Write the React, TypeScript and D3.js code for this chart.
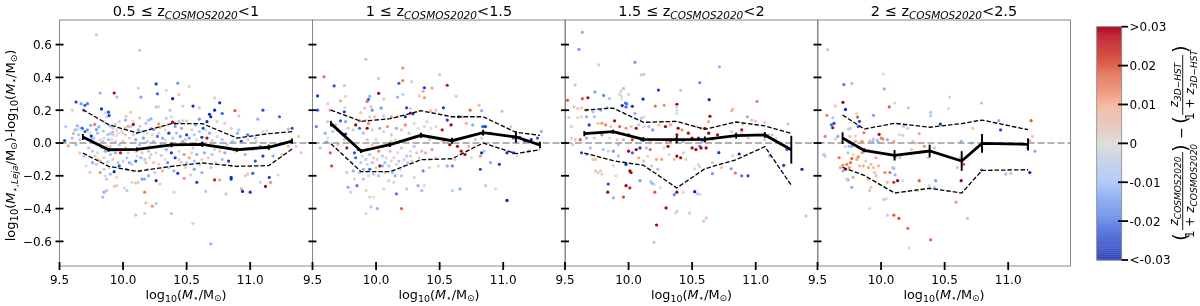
import React from 'react';
import * as d3 from 'd3';

type Pt = [number, number, number];

// log mass, delta log mass, delta z
const points05: Pt[] = [
  [9.79,.66,.008],[10.13,.565,.008],[10.26,.36,-.025],[10.43,.365,-.014],[10.34,.32,.005],[10.52,.345,.002],[10.12,.335,.005],[10.27,.3,-.02],
  [9.82,.305,-.012],[9.93,.305,.03],[9.95,.28,-.01],[10.14,.28,-.013],[10.39,.27,-.03],[10.44,.295,.006],[9.63,.25,-.026],[9.67,.24,-.014],
  [9.72,.24,-.017],[9.7,.23,-.02],[9.6,.2,.005],[9.69,.2,-.016],[9.83,.208,-.028],[9.885,.188,-.024],[9.89,.167,-.026],[9.86,.184,0],
  [10.28,.22,-.002],[10.26,.22,-.008],[10.37,.2,-.006],[10.47,.225,.005],[10.55,.225,-.028],[10.6,.215,-.006],[10.72,.275,.004],[10.76,.245,-.028],
  [10.72,.2,-.028],[10.78,.18,-.02],[10.68,.175,-.028],[10.69,.16,-.028],[10.88,.197,.02],[10.91,.165,.006],[11.1,.2,-.022],[11.23,.16,-.02],
  [11.06,.145,-.012],[10.66,.13,-.028],[10.57,.11,-.012],[10.6,.145,-.014],[10.5,.135,.006],[10.47,.135,.006],[10.39,.127,.03],[10.41,.119,.018],
  [10.22,.147,-.012],[10.2,.139,-.01],[10.06,.188,.006],[10.024,.163,.006],[10.13,.153,.006],[10.08,.113,.03],[10.04,.102,.012],[10.016,.092,.006],
  [10.134,.102,.006],[10.28,.117,.014],[10.24,.082,-.014],[10.29,.096,.012],[9.55,.1,-.008],[9.635,.082,-.008],[9.667,.092,-.006],[9.61,.058,.012],
  [9.777,.113,.016],[9.745,.107,-.012],[9.79,.082,-.014],[9.81,.098,-.012],[9.845,.072,-.006],[9.75,.042,-.028],[9.9,.102,-.01],[9.94,.113,-.006],
  [9.963,.062,0],[9.99,.072,0],[10,.058,.002],[9.95,.045,0],[9.898,.058,-.008],[9.919,.066,-.01],[9.885,.021,-.01],[9.54,.015,-.026],[9.57,-.018,.012],
  [9.6,.03,-.01],[9.62,.08,-.008],[9.64,.105,-.012],[9.65,.05,-.01],[9.66,.02,-.006],[9.63,-.01,-.01],[9.68,.09,-.02],[9.7,.07,-.02],[9.72,.08,-.015],
  [9.74,.06,0],[9.75,.02,-.012],[9.73,-.03,-.006],[9.76,-.05,-.006],[9.78,-.08,.006],[9.8,-.1,.01],[9.82,-.11,.012],[9.71,-.14,0],[9.74,-.18,.004],
  [9.82,-.18,.014],[9.85,-.16,-.006],[9.86,-.2,0],[9.87,-.22,-.006],[9.85,-.3,-.012],[9.84,-.33,-.01],[9.87,-.29,-.008],[9.93,-.265,.007],[9.95,-.26,.007],
  [10.01,-.275,.002],[10.03,-.29,-.006],[10.1,-.245,.006],[10.1,-.44,.008],[10.17,-.43,.008],[10.17,-.3,.016],[10.18,-.365,.01],[10.23,-.385,.014],
  [10.26,-.37,-.008],[10.38,-.43,-.01],[10.15,-.22,-.014],[10.17,-.22,-.012],[10.12,-.24,.004],[10.26,-.23,-.027],[10.29,-.25,.006],[10.4,-.3,.003],
  [10.4,-.17,-.012],[10.43,-.185,-.026],[10.48,-.215,.014],[10.53,-.195,.006],[10.58,-.24,-.024],[10.65,-.295,-.007],[10.55,-.49,.004],[10.69,-.615,-.012],
  [10.72,-.225,.026],[10.76,-.225,.012],[10.81,-.31,-.006],[10.85,-.22,-.028],[10.85,-.21,-.028],[10.93,-.28,.012],[10.94,-.295,-.028],[11,-.3,-.026],
  [11.02,-.185,-.02],[10.98,-.19,.008],[10.96,-.2,.006],[11.08,-.24,-.004],[11.12,-.265,.03],[11.15,-.21,-.024],[11.16,-.24,.014],[11.22,-.195,.001],
  [10.62,-.18,-.012],[10.69,-.15,-.006],[10.73,-.12,.006],[10.78,-.1,-.01],[10.83,-.11,-.026],[10.85,-.14,.008],[10.8,-.06,-.012],[10.76,-.05,.006],
  [10.7,-.07,-.008],[10.62,-.1,.004],[10.56,-.11,-.01],[10.52,-.09,.012],[10.46,-.12,.006],[10.41,-.09,-.026],[10.38,-.06,-.026],[10.33,-.1,0],
  [10.3,-.075,-.006],[10.24,-.12,.006],[10.21,-.09,.004],[10.18,-.12,.008],[10.14,-.09,-.012],[10.1,-.11,-.02],[10.07,-.13,.004],[10.03,-.09,-.008],
  [9.98,-.06,.028],[9.97,-.14,-.022],[9.93,-.175,-.028],[9.96,-.12,-.008],[9.92,-.1,.004],[9.88,-.115,-.006],[9.9,-.07,-.01],[9.86,-.05,-.012],
  [9.83,-.03,-.008],[9.8,-.06,.002],[9.82,.02,.004],[9.85,.03,.002],[9.88,.05,-.01],[9.91,.02,.002],[9.94,.01,.004],[9.97,-.01,-.006],[10,.01,.004],
  [10.02,-.03,.008],[10.05,.03,.002],[10.08,.05,.006],[10.1,.02,-.012],[10.13,-.01,-.01],[10.16,.03,-.014],[10.19,.06,.001],[10.21,-.02,.004],
  [10.24,.01,-.01],[10.27,.04,-.018],[10.3,-.01,-.008],[10.33,.02,.001],[10.36,-.02,.005],[10.36,.06,-.026],[10.39,.03,-.008],[10.42,-.01,.008],
  [10.45,.04,-.014],[10.47,.01,-.012],[10.5,.05,-.026],[10.52,.03,-.014],[10.55,-.03,.006],[10.58,.02,.002],[10.62,.035,-.026],[10.66,.03,.028],
  [10.68,.06,-.012],[10.7,.015,.006],[10.74,.04,.004],[10.78,.02,-.007],[10.82,-.01,.006],[10.86,.01,-.01],[10.9,.06,-.012],[10.93,.01,-.026],
  [10.98,.05,-.018],[11.02,-.04,-.006],[11.05,.01,.002],[11.1,-.08,-.026],[11.04,-.11,-.022],[11.14,-.03,.004],[11.18,-.08,-.012],[11.25,-.07,.006],
  [11.3,-.02,.01],[11.33,.09,-.022],[11.3,.085,.012],[11.38,.04,.006],[11.4,-.06,.006],[11.36,-.02,.002],[11.13,.075,.002],[11.1,.07,.001],[11.04,.03,-.01],
  [10.98,.02,.003],[10.91,.08,-.006],[10.85,.09,.004],[10.8,.12,.006],[10.74,.13,.001],[10.63,.09,-.024],[10.6,.07,-.008],[10.54,.08,.004],[10.46,.09,-.012],
  [10.42,.06,-.01],[10.33,.08,.002],[10.28,.06,0],[10.22,.09,-.01],[10.18,.12,-.008],[10.12,.08,-.012],[10.08,.13,.003],[10.02,.14,-.012],[9.97,.13,.004],
  [10.34,.15,-.006],[10.38,.16,.002],[10.44,.13,-.01],[9.92,.09,.008],[9.87,.16,-.006],[9.85,.13,.002],[10.03,-.16,-.012],[10.08,-.17,-.006],[10.13,-.17,.004],
  [10.19,-.16,.008],[10.25,-.18,.006],[10.31,-.17,.01],[10.36,-.15,-.008],[10.49,-.15,.004],[10.56,-.16,-.014],[10.6,-.13,.002],[9.9,-.19,-.01],[9.95,-.21,.002],
  [10.07,-.24,.001],[10.2,-.2,-.012],[9.79,-.13,-.004],[9.76,-.12,-.012],[9.66,-.06,.006],[9.69,-.08,-.008],[9.9,-.02,.006],[10.04,-.06,.006],[10.1,-.05,-.004],
  [10.15,-.06,.006],[10.2,-.05,-.008],[10.26,-.06,.004],[10.34,-.04,-.012],[10.44,-.05,.002],[10.48,-.07,.014],[10.58,-.07,-.012],[10.67,-.09,.006],
  [9.77,.03,-.008],[9.8,.06,-.01],[9.84,.01,-.006],[9.87,-.02,.004],[9.92,.05,-.004],[9.95,.08,.002],[10.02,.05,.004],[10.06,.1,-.006],[10.11,.06,.002],
  [10.15,.07,-.008],[10.19,.01,-.006],[10.23,.05,.001],[10.31,.03,-.012],[10.35,.11,.004],[10.41,.1,-.014],[10.49,.02,.006],[10.56,.05,-.008],[10.65,.08,.002],
  [9.85,-.09,.004],[9.89,-.15,.002],[9.94,-.06,-.012],[10,-.11,.006],[10.05,-.12,-.012],[10.11,-.08,.002],[10.17,-.1,-.006],[10.22,-.07,.006],[10.28,-.13,.004],
  [10.35,-.12,-.014],[10.44,-.1,.004],[10.5,-.12,-.008],[10.54,-.06,.002],[10.64,-.06,-.012],[10.72,-.04,.002],[10.88,-.05,.006],[10.96,-.07,-.012],[11.08,-.02,-.014],
];

const points1: Pt[] = [
  [9.92,.51,-.008],[10.02,.394,-.006],[10.21,.457,.014],[10.5,.417,.008],[9.59,.404,.018],[10.21,.38,.016],[10.18,.364,-.02],[10.28,.374,-.002],
  [10.56,.352,.028],[9.67,.348,-.022],[9.75,.35,-.006],[10.38,.337,-.026],[10.44,.335,.012],[10.37,.315,.012],[10.02,.303,.03],[10.63,.285,.006],
  [9.54,.287,-.026],[10.34,.287,.006],[10.38,.276,.014],[10.17,.28,-.012],[10.21,.297,-.006],[9.76,.285,.004],[9.95,.285,-.012],[9.94,.266,-.02],
  [9.93,.254,.018],[10.06,.268,.006],[9.72,.256,.012],[9.62,.24,.004],[9.54,.2,-.02],[9.64,.2,.014],[9.755,.217,0],[9.75,.19,-.025],[9.88,.185,.006],
  [9.91,.213,.008],[9.96,.22,.008],[9.97,.2,-.015],[10.04,.213,-.015],[10.24,.215,-.025],[10.27,.21,.006],[10.53,.215,-.026],[10.81,.23,.01],
  [10.74,.2,.018],[10.83,.197,-.012],[10.99,.193,-.008],[10.43,.197,.008],[10.47,.2,.006],[10.27,.183,.028],[10.29,.178,-.026],[10.23,.16,-.028],
  [10.17,.16,.006],[10.12,.16,.014],[10.06,.165,-.006],[9.99,.16,.01],[9.95,.16,-.004],[9.92,.14,.002],[9.94,.118,.014],[9.87,.135,.016],[9.84,.11,.03],
  [9.76,.13,-.012],[9.72,.135,-.02],[9.68,.11,-.01],[9.62,.13,-.006],[9.53,.1,-.016],[9.6,.06,-.012],[9.66,.07,-.008],[9.7,.08,-.012],[9.73,.06,-.022],
  [9.76,.055,-.028],[9.78,.09,.006],[9.82,.08,-.006],[9.87,.09,-.02],[9.93,.09,.03],[9.9,.06,-.008],[9.97,.08,.004],[10.03,.09,-.012],[10.06,.07,.006],
  [10.09,.1,.014],[10.12,.05,-.006],[10.16,.09,-.012],[10.2,.08,.008],[10.23,.11,.016],[10.26,.06,-.006],[10.3,.12,.002],[10.33,.09,0],[10.38,.1,.004],
  [10.4,.13,.003],[10.43,.09,.001],[10.47,.1,.002],[10.52,.08,.028],[10.56,.14,-.026],[10.59,.11,.03],[10.65,.16,-.026],[10.68,.16,.012],[10.71,.12,.012],
  [10.76,.11,-.012],[10.84,.1,-.02],[10.86,.1,-.026],[10.9,.06,-.012],[11.06,.1,-.004],[11.13,.035,-.024],[11.08,.03,-.02],[11.17,.01,-.022],[11.3,.07,-.012],
  [11.27,.03,-.022],[11.22,.02,-.028],[11.26,-.01,-.002],[11.2,-.05,-.012],[11.08,-.06,-.026],[11.03,-.06,-.028],[10.83,-.06,-.028],[10.7,-.07,.03],[10.67,-.05,.028],
  [10.64,-.02,.028],[10.58,-.01,.03],[10.53,.01,.012],[10.73,-.02,.01],[10.78,.02,.006],[10.83,.03,.004],[9.56,-.03,-.006],[9.61,.005,-.014],[9.64,-.06,.02],
  [9.65,-.14,.022],[9.77,-.18,.01],[9.81,-.12,-.004],[9.77,-.03,.028],[9.75,.02,.006],[9.7,-.01,.006],[9.62,.03,.002],[9.83,-.06,-.022],[9.84,-.09,-.02],
  [9.86,-.04,-.026],[9.89,-.08,0],[9.92,-.1,-.006],[9.95,-.07,-.01],[9.98,-.09,.004],[10.02,-.05,.016],[10.05,-.08,-.008],[10.03,-.14,.03],[10.08,-.09,.004],
  [10.11,-.05,.01],[10.14,-.09,-.004],[10.17,-.06,.002],[10.2,-.03,-.006],[10.24,-.08,-.008],[10.27,-.05,0],[10.3,-.02,-.01],[10.34,-.09,.004],[10.36,-.05,-.006],
  [10.39,-.06,.012],[10.44,-.04,.014],[10.47,-.09,.004],[10.49,-.14,.002],[10.56,-.14,-.012],[10.6,-.14,-.016],[10.62,-.1,.006],[10.82,-.16,-.024],[10.85,-.05,-.01],
  [10.9,-.12,-.012],[10.97,-.13,-.026],[11.11,-.08,0],[9.82,-.17,-.012],[9.83,-.22,-.002],[9.87,-.18,-.008],[9.9,-.16,-.012],[9.95,-.16,-.02],[10,-.15,.004],
  [9.85,-.26,-.018],[9.78,-.27,-.012],[9.8,-.3,-.004],[9.92,-.29,.004],[9.95,-.33,.004],[9.98,-.33,.002],[9.92,-.43,-.002],[10.01,-.4,-.012],[9.96,-.39,-.008],
  [10.06,-.28,.002],[10.1,-.23,.004],[10.14,-.24,.004],[10.16,-.31,-.018],[10.2,-.4,.02],[10.24,-.28,-.006],[10.33,-.26,-.012],[10.36,-.29,-.01],[10.38,-.26,.002],
  [10.15,-.2,-.012],[10.2,-.2,-.008],[10.3,-.21,.004],[10.37,-.17,-.016],[10.42,-.15,.004],[10.6,-.29,-.006],[10.66,-.28,-.012],[10.86,-.26,.008],[10.94,-.28,.001],
  [11.03,-.35,-.03],[10.82,-.08,.014],[10.75,-.09,.002],[10.07,-.18,.006],[10.02,-.2,-.01],[10.1,-.14,-.008],[10.16,-.13,.002],[10.22,-.14,-.006],[10.28,-.11,.002],
  [10.05,-.02,.012],[9.97,-.01,.006],[9.93,.02,.008],[10.0,.02,.002],[10.15,.02,.001],[10.25,.02,-.008],[10.36,.04,.001],[10.42,.02,-.004],
  [9.88,-.12,-.006],[9.93,-.13,.002],[9.97,-.12,-.008],[10.01,-.1,.002],[10.07,-.12,-.01],[10.12,-.11,.002],[10.18,-.11,-.008],[10.22,-.1,-.002],[10.27,-.08,.004],
  [9.9,-.22,-.008],[9.94,-.2,.002],[9.98,-.19,-.006],[10.05,-.14,-.012],[10.13,-.18,-.01],[10.19,-.16,.002],[10.25,-.12,-.006],[10.32,-.06,.006],[10.12,.01,.004],
];

const points15: Pt[] = [
  [9.636,.675,-.012],[9.61,.571,-.014],[9.765,.476,-.004],[10.05,.492,-.014],[10.715,.465,-.012],[10.1,.415,.008],[10.12,.419,-.006],[10.56,.368,-.015],
  [10.235,.323,-.025],[9.58,.354,-.005],[9.96,.333,-.008],[9.94,.317,.006],[10.41,.321,-.006],[9.736,.311,-.014],[9.804,.29,-.016],[9.68,.276,.03],
  [9.637,.27,.02],[9.52,.26,.02],[9.85,.27,-.008],[9.93,.295,.004],[9.946,.285,0],[10,.295,.006],[9.945,.268,0],[10.114,.268,-.03],[10.634,.264,-.028],
  [11.01,.254,.016],[9.95,.228,-.028],[9.975,.244,-.018],[9.985,.24,-.018],[9.98,.22,-.02],[10.03,.224,-.028],[10.21,.225,.018],[10.28,.23,.014],
  [10.38,.236,.03],[10.38,.22,.002],[10.38,.2,0],[10.38,.18,-.002],[10.81,.197,.01],[10.82,.207,.01],[10.64,.163,.03],[10.935,.16,-.012],[10.97,.14,.01],
  [11,.134,.008],[11.255,.116,-.008],[11.07,.126,.004],[10.89,.08,.028],[10.9,.116,.008],[9.53,.155,-.004],[9.57,.22,.008],[9.6,.21,.006],[9.63,.215,.006],
  [9.67,.2,.014],[9.72,.19,-.01],[9.78,.2,-.012],[9.83,.215,-.012],[10.05,.18,-.012],[10.12,.16,.002],[10.1,.15,-.006],[9.55,.1,-.004],[9.6,.155,.002],
  [9.63,.16,.002],[9.67,.16,-.012],[9.69,.11,-.026],[9.73,.16,-.01],[9.76,.12,.008],[9.79,.12,.014],[9.82,.11,.016],[9.86,.1,.008],[9.89,.135,.03],
  [9.93,.1,.02],[9.92,.06,.012],[9.98,.09,.014],[10.02,.1,.008],[10.06,.09,.03],[10,.05,.03],[10.03,.02,.022],[10.08,.11,-.006],[10.12,.1,.002],[10.16,.1,-.01],
  [10.19,.08,-.014],[10.24,.11,.004],[10.29,.1,.03],[10.33,.11,.012],[10.39,.09,.03],[10.38,.05,.03],[10.42,.08,.014],[10.47,.06,.028],[10.53,.1,.008],
  [10.57,.09,.012],[10.6,.09,.028],[10.63,.13,.012],[10.63,.06,.03],[10.7,.05,.03],[10.81,.07,.006],[10.89,.06,.002],[10.94,.03,.004],[11.1,.05,.012],
  [11.07,.02,.004],[11.16,.03,.002],[11.13,.05,-.006],[9.55,.03,.004],[9.58,.02,.008],[9.62,.02,.02],[9.67,.03,-.012],[9.73,.03,.006],[9.79,.05,-.014],
  [9.85,.03,0],[9.91,.02,.004],[9.96,.02,.012],[10.1,.02,-.024],[10.17,.01,.006],[10.23,.02,.012],[10.3,.015,.016],[10.33,.015,.03],[10.37,.02,.03],
  [10.43,.01,-.012],[10.5,.03,.03],[10.55,.03,.03],[10.58,.01,-.012],[10.66,.02,.006],[9.56,-.01,.004],[9.63,-.06,-.024],[9.67,-.07,-.012],[9.7,-.03,-.01],
  [9.74,-.1,.008],[9.72,-.1,.006],[9.8,-.04,-.01],[9.84,-.05,-.002],[9.88,-.05,-.014],[9.92,-.01,-.008],[10,-.05,.03],[10.03,-.06,-.02],[10.06,-.04,.03],
  [10.09,-.03,-.026],[10.14,-.03,-.01],[10.17,-.04,.018],[10.22,-.1,.012],[10.26,-.1,.012],[10.28,-.03,-.002],[10.32,-.07,.002],[10.38,-.08,.03],[10.41,-.09,.03],
  [10.43,-.06,-.004],[10.5,-.03,.03],[10.53,-.04,.03],[10.56,-.02,-.016],[10.57,-.03,.03],[10.61,-.03,.03],[10.45,-.1,.003],[10.36,-.1,.008],[10.31,-.02,.03],
  [9.74,-.17,.006],[9.76,-.18,.005],[9.78,-.17,.004],[9.79,-.19,.002],[9.88,-.14,.004],[9.98,-.13,-.028],[10.01,-.17,.03],[10.02,-.18,.03],[9.92,-.08,-.01],
  [10.09,-.23,-.014],[9.9,-.2,.002],[9.84,-.25,-.024],[9.836,-.3,.03],[9.88,-.335,-.012],[9.98,-.26,.03],[10.01,-.274,.026],[9.96,-.33,.022],[10.206,-.3,.02],
  [10.175,-.234,-.006],[10.185,-.246,-.012],[10.2,-.252,-.004],[10.25,-.272,0],[10.38,-.3,.03],[10.36,-.315,-.016],[10.43,-.3,.002],[10.52,-.297,-.03],
  [10.54,-.31,-.008],[10.56,-.313,.002],[10.295,-.396,.03],[10.38,-.417,-.004],[10.37,-.427,.002],[10.48,-.427,.006],[10.61,-.457,.008],[10.59,-.476,.008],
  [10.22,-.5,.03],[10.2,-.606,.008],[11.395,-.445,.008],[11.364,-.16,-.03],[11.22,-.136,-.026],[10.94,-.2,-.024],[10.89,-.2,-.018],[10.84,-.183,.018],
  [10.807,-.157,-.014],[10.66,-.187,-.014],[10.56,-.144,-.004],[10.55,-.132,.002],[10.52,-.157,.002],[10.71,-.059,-.026],[10.87,-.067,-.028],[10.82,-.077,0],
  [11.11,-.079,-.012],[11.245,-.04,-.02],[10.73,-.15,.008],[10.66,-.12,-.004],[10.23,-.16,-.01],[10.18,-.14,-.006],[10.12,-.11,-.006],[10.08,-.09,.012],[10.15,-.08,.003],
];

const points2: Pt[] = [
  [9.58,.569,-.008],[9.707,.356,-.018],[9.77,.364,-.01],[10.017,.42,-.002],[10.025,.33,-.012],[10.54,.28,.004],[9.7,.248,.03],[10.106,.244,.002],[10.064,.22,.02],
  [9.64,.226,.008],[9.72,.205,-.03],[10.214,.215,-.008],[10.53,.21,.002],[10.79,.244,-.01],[10.39,.187,-.008],[10.39,.165,-.006],[9.807,.18,-.002],[9.815,.158,.02],
  [9.574,.169,.016],[9.62,.154,-.008],[9.94,.169,-.014],[9.83,.132,-.024],[9.63,.12,-.024],[9.61,.11,-.02],[9.62,.093,.03],[9.82,.1,-.02],[9.757,.09,-.008],
  [9.744,.085,-.006],[10.466,.116,-.028],[10.925,.136,-.012],[10.94,.08,-.024],[11.18,.136,.02],[10.72,.09,.006],[10.177,.1,-.008],[10.21,.09,-.006],[10.143,.05,.004],
  [10.17,.047,.004],[10.3,.057,.012],[9.985,.053,.03],[10,.03,.016],[10.014,.024,.016],[9.94,.024,-.008],[9.933,.01,-.01],[9.98,.004,-.006],[9.97,.016,-.01],
  [9.865,.063,.016],[9.797,.043,.002],[9.755,.04,.004],[9.66,.04,-.012],[9.56,.04,.016],[9.64,.024,.004],[9.75,-.02,-.01],[9.77,-.02,-.012],[9.72,-.02,-.002],
  [9.8,.01,.012],[9.85,.01,.014],[9.91,.015,.006],[10.05,.02,-.012],[10.1,.01,.012],[10.25,.01,-.004],[10.27,0,.006],[10.63,.01,-.012],[10.71,0,-.012],[11.15,-.03,-.01],
  [11.17,.015,.012],[11.19,.04,.006],[11.21,-.05,-.012],[9.55,-.07,-.008],[9.56,-.08,-.006],[9.67,-.09,.018],[9.74,-.06,-.008],[9.78,-.07,.002],[9.82,-.085,.016],
  [9.81,-.1,.012],[9.77,-.095,.02],[9.76,-.12,.018],[9.73,-.13,.016],[9.7,-.135,.014],[9.68,-.15,.012],[9.72,-.16,.03],[9.75,-.15,.014],[9.7,-.17,-.012],
  [9.74,-.225,-.012],[9.73,-.22,-.006],[9.78,-.21,.012],[9.77,-.27,-.012],[9.83,-.14,.01],[9.86,-.14,.012],[9.88,-.11,-.004],[9.92,-.13,.01],[9.9,-.15,.012],
  [9.94,-.15,.008],[9.95,-.18,.01],[9.96,-.2,.01],[9.9,-.22,.012],[9.92,-.27,.008],[9.91,-.29,.006],[10.03,-.18,.016],[10.07,-.18,.018],[10.1,-.155,-.012],
  [10.11,-.195,-.012],[10.13,-.23,.03],[10.17,-.23,0],[10.05,-.24,.01],[10.1,-.24,.024],[10.02,-.345,-.006],[10.04,-.34,.004],[9.91,-.4,.001],[10.05,-.44,-.004],
  [10.1,-.44,.02],[10.14,-.46,.022],[10.21,-.52,.018],[10.22,-.64,.002],[10.39,-.59,.02],[10.3,-.23,.02],[10.38,-.26,-.002],[10.43,-.23,-.014],[10.28,-.29,.004],
  [10.42,-.27,-.006],[10.63,-.23,.03],[10.59,-.36,.014],[10.68,-.46,-.006],[10.65,-.13,.02],[10.6,-.15,.008],[10.79,-.165,-.018],[10.98,-.19,-.008],[11.02,-.185,-.008],
  [11.17,-.18,-.03],[10.37,-.09,.002],[10.42,-.03,.006],[10.11,-.09,.014],[10.15,-.09,-.006],[10.09,-.15,-.008],[9.98,-.14,.01],[9.96,-.09,.012],[9.87,-.04,.012],
  [9.82,-.03,-.002],[9.85,-.06,.014],[10.62,-.09,.004],[10.24,-.04,.008],[10.3,-.06,.006],[10.34,-.02,.014],
];

const medians = [
  { x: [9.684,9.886,10.109,10.382,10.623,10.896,11.146,11.329], y: [.037,-.041,-.039,-.012,-.008,-.041,-.026,.012], err: [.018,.012,.012,.014,.016,.012,.016,.016],
    up: [.203,.112,.061,.118,.118,.03,.057,.069], lo: [-.061,-.142,-.173,-.142,-.122,-.142,-.138,-.037] },
  { x: [9.645,9.882,10.11,10.353,10.597,10.842,11.1,11.289], y: [.118,-.049,-.01,.047,.014,.063,.037,-.012], err: [.017,.012,.014,.016,.018,.018,.035,.02],
    up: [.201,.132,.148,.197,.16,.16,.065,.047], lo: [-.004,-.175,-.175,-.102,-.096,0,-.065,-.041] },
  { x: [9.652,9.878,10.117,10.379,10.6,10.846,11.072,11.28], y: [.057,.069,.022,.02,.022,.045,.049,-.041], err: [.016,.012,.014,.022,.018,.018,.018,.085],
    up: [.201,.213,.126,.132,.083,.128,.104,.059], lo: [-.061,-.108,-.136,-.274,-.157,-.102,-.022,-.258] },
  { x: [9.697,9.867,10.106,10.382,10.634,10.794,11.156], y: [.03,-.045,-.075,-.049,-.11,-.002,-.008], err: [.035,.012,.032,.039,.06,.057,.037],
    up: [.171,.085,.12,.096,.118,.14,.081], lo: [-.148,-.197,-.305,-.276,-.305,-.167,-.163] },
];

const zLabels = ['0.5', '1', '1.5', '2'];
const zLabelsHigh = ['1', '1.5', '2', '2.5'];
const panelPoints = [points05, points1, points15, points2];
const panelLefts = [59.5, 312.5, 565, 817.5];
const xTicks = [9.5, 10, 10.5, 11];
const yTicks = [-0.6, -0.4, -0.2, 0, 0.2, 0.4, 0.6];
const cbarTicks = [-0.03, -0.02, -0.01, 0, 0.01, 0.02, 0.03];
const cbarLabels = ['<-0.03', '-0.02', '-0.01', '0', '0.01', '0.02', '>0.03'];

const dotColor = d3.scaleLinear<string>().domain(cbarTicks)
  .range(['#0a1fc0', '#2f62f0', '#a4c2ff', '#dcdcdc', '#f8b89e', '#ec5a30', '#a80010']).clamp(true);
const barColor = d3.scaleLinear<string>().domain(cbarTicks)
  .range(['#3345bb', '#6a8de8', '#b0c9f8', '#dddcdc', '#f5b8a0', '#e0664e', '#b70d28']);

const font = '"DejaVu Sans"';
const spine = '#888888';
const W = 253, top = 20, bottom = 266;

const y = d3.scaleLinear().domain([-0.75, 0.75]).range([bottom, top]);
const cbarY = d3.scaleLinear().domain([-0.03, 0.03]).range([260, 26.7]);
const cbarSteps = d3.range(-0.03, 0.03, 0.0005);

const MassLabel = () => (
  <>
    log<tspan fontSize={9.5} dy={3}>10</tspan>
    <tspan dy={-3}>(</tspan><tspan fontStyle="italic">M</tspan><tspan fontSize={9} dy={2}>⋆</tspan>
    <tspan dy={-2}>/M</tspan><tspan fontSize={9} dy={2}>⊙</tspan><tspan dy={-2}>)</tspan>
  </>
);

const Panel = ({ i }: { i: number }) => {
  const left = panelLefts[i];
  const x = d3.scaleLinear().domain([9.5, 11.49]).range([left, left + W]);
  const m = medians[i];
  const line = d3.line<[number, number]>().x(d => x(d[0])).y(d => y(d[1]));
  const path = (vals: number[]) => line(m.x.map((v, k) => [v, vals[k]] as [number, number])) as string;
  return (
    <g>
      {panelPoints[i].map((p, k) => (
        <circle key={k} cx={x(p[0])} cy={y(p[1])} r={1.6} fill={dotColor(p[2])} />
      ))}
      <line x1={left} x2={left + W} y1={y(0)} y2={y(0)} stroke="#999999" strokeWidth={1.6} strokeDasharray="7 3" />
      <path d={path(m.up)} fill="none" stroke="#000" strokeWidth={1.3} strokeDasharray="4.5 2" />
      <path d={path(m.lo)} fill="none" stroke="#000" strokeWidth={1.3} strokeDasharray="4.5 2" />
      <path d={path(m.y)} fill="none" stroke="#000" strokeWidth={2.8} />
      {m.x.map((v, k) => (
        <line key={k} x1={x(v)} x2={x(v)} y1={y(m.y[k] - m.err[k])} y2={y(m.y[k] + m.err[k])} stroke="#000" strokeWidth={1.9} />
      ))}
      <rect x={left} y={top} width={W} height={bottom - top} fill="none" stroke={spine} strokeWidth={1} />
      {yTicks.map(t => (
        <g key={t}>
          <line x1={left - 4} x2={left + 4} y1={y(t)} y2={y(t)} stroke="#000" strokeWidth={1.8} />
          {i === 0 && (
            <text x={left - 7.5} y={y(t) + 4.3} textAnchor="end" fontSize={12}>{t === 0 ? '0.0' : (t < 0 ? '−' : '') + Math.abs(t).toFixed(1)}</text>
          )}
        </g>
      ))}
      {xTicks.map(t => (
        <g key={t}>
          <line x1={x(t)} x2={x(t)} y1={bottom - 4} y2={bottom + 4} stroke="#000" strokeWidth={1.8} />
          <text x={x(t)} y={283.5} textAnchor="middle" fontSize={12}>{t.toFixed(1)}</text>
        </g>
      ))}
      <text x={left + W / 2} y={16} textAnchor="middle" fontSize={14.5}>
        {zLabels[i]} ≤ z<tspan fontSize={10.5} fontStyle="italic" dy={3}>COSMOS2020</tspan><tspan dy={-3}>&lt;{zLabelsHigh[i]}</tspan>
      </text>
      <text x={left + W / 2} y={298.5} textAnchor="middle" fontSize={12.8}><MassLabel /></text>
    </g>
  );
};

const Rot = ({ x, y: yy, size, children }: { x: number; y: number; size: number; children: React.ReactNode }) => (
  <text transform={`translate(${x},${yy}) rotate(-90)`} textAnchor="middle" fontSize={size}>{children}</text>
);

const Fraction = ({ sub, cy, half }: { sub: string; cy: number; half: number }) => (
  <g>
    <Rot x={1178} y={cy} size={12}><tspan fontStyle="italic">z</tspan><tspan fontSize={9} fontStyle="italic" dy={2.5}>{sub}</tspan></Rot>
    <line x1={1182.7} x2={1182.7} y1={cy - half} y2={cy + half} stroke="#000" strokeWidth={0.9} />
    <Rot x={1194} y={cy} size={12}>1 + <tspan fontStyle="italic">z</tspan><tspan fontSize={9} fontStyle="italic" dy={2.5}>{sub}</tspan></Rot>
  </g>
);

const App = () => (
  <svg width={1200} height={306} style={{ position: 'absolute', left: 0, top: 0 }} fontFamily={font} fill="#000">
    <defs>
      <filter id="soft" x="0" y="0" width="100%" height="100%"><feGaussianBlur stdDeviation={0.35} /></filter>
    </defs>
    <rect width={1200} height={306} fill="#fff" />
    <g filter="url(#soft)">
      {panelLefts.map((_, i) => <Panel key={i} i={i} />)}

      <text transform="translate(15,145.5) rotate(-90)" textAnchor="middle" fontSize={13}>
        log<tspan fontSize={10} dy={3}>10</tspan><tspan dy={-3}>(</tspan><tspan fontStyle="italic">M</tspan>
        <tspan fontSize={9} fontStyle="italic" dy={3}>⋆,Leja</tspan><tspan dy={-3}>/M</tspan><tspan fontSize={9} dy={2}>⊙</tspan>
        <tspan dy={-2}>)-log</tspan><tspan fontSize={10} dy={3}>10</tspan><tspan dy={-3}>(</tspan><tspan fontStyle="italic">M</tspan>
        <tspan fontSize={9} dy={2}>⋆</tspan><tspan dy={-2}>/M</tspan><tspan fontSize={9} dy={2}>⊙</tspan><tspan dy={-2}>)</tspan>
      </text>

      {cbarSteps.map(v => (
        <rect key={v} x={1096.7} width={25} y={cbarY(v + 0.0005)} height={cbarY(v) - cbarY(v + 0.0005) + 0.4} fill={barColor(v + 0.00025)} />
      ))}
      <rect x={1096.7} y={26.7} width={25} height={233.3} fill="none" stroke={spine} strokeWidth={0.8} />
      {cbarTicks.map((t, k) => (
        <g key={t}>
          <line x1={k === 0 || k === 6 ? 1121.5 : 1118} x2={1128} y1={cbarY(t)} y2={cbarY(t)} stroke="#000" strokeWidth={1.8} />
          <text x={1129.5} y={cbarY(t) + 4.4} fontSize={12}>{cbarLabels[k]}</text>
        </g>
      ))}

      <Rot x={1187} y={237} size={20}>(</Rot>
      <Fraction sub="COSMOS2020" cy={191} half={39} />
      <Rot x={1187} y={148} size={20}>)</Rot>
      <Rot x={1186} y={133} size={14}>−</Rot>
      <Rot x={1187} y={120} size={20}>(</Rot>
      <Fraction sub="3D−HST" cy={85} half={30} />
      <Rot x={1187} y={49} size={20}>)</Rot>
    </g>
  </svg>
);

export default App;
